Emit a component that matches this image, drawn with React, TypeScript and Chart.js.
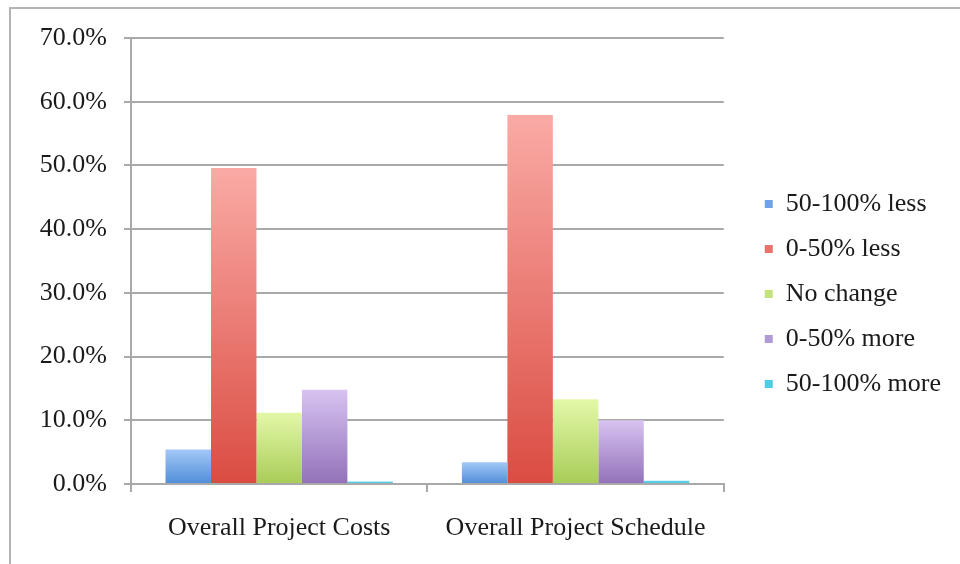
import React, { useEffect, useRef } from "react";
import { Chart, registerables } from "chart.js";

Chart.register(...registerables);

const categories = ["Overall Project Costs", "Overall Project Schedule"];
const seriesNames = ["50-100% less", "0-50% less", "No change", "0-50% more", "50-100% more"];
const lessMajor = [5.4, 3.4];
const lessMinor = [49.6, 57.9];
const noChange = [11.2, 13.3];
const moreMinor = [14.8, 10.0];
const moreMajor = [0.4, 0.5];
const seriesValues = [lessMajor, lessMinor, noChange, moreMinor, moreMajor];
const yTicks = [0, 10, 20, 30, 40, 50, 60, 70];

const gradTop = ["#a2c8f6", "#faaaa5", "#e3f8a8", "#d7c3f1", "#66d8ef"];
const gradBottom = ["#4f8dd9", "#da4c42", "#a9cc58", "#9271b9", "#3cbfd8"];
const legendColors = ["#6fa3e6", "#e8736b", "#c4e37f", "#b19ad6", "#4fcde6"];

const FONT = "'Liberation Serif', 'Times New Roman', serif";
const GRID = "#a9a9a9";

const legendShift = {
  id: "legendShift",
  afterLayout(chart: any) {
    const lg = chart.legend;
    if (lg) {
      lg.left += 22;
      lg.right += 22;
    }
  },
};

export default function App() {
  const ref = useRef<HTMLCanvasElement | null>(null);

  useEffect(() => {
    if (!ref.current) return;
    const makeBg = (i: number) => (ctx: any) => {
      const chart = ctx.chart;
      const y = chart.scales && chart.scales.y;
      if (!chart.chartArea || !y || ctx.raw === undefined) return legendColors[i];
      const top = y.getPixelForValue(ctx.raw);
      const bottom = y.getPixelForValue(0);
      if (!isFinite(top) || !isFinite(bottom) || bottom - top < 1) return gradBottom[i];
      const g = chart.ctx.createLinearGradient(0, top, 0, bottom);
      g.addColorStop(0, gradTop[i]);
      g.addColorStop(1, gradBottom[i]);
      return g;
    };

    const chart = new Chart(ref.current, {
      type: "bar",
      data: {
        labels: categories,
        datasets: seriesNames.map((name, i) => ({
          label: name,
          data: seriesValues[i],
          backgroundColor: makeBg(i),
          borderWidth: 0,
          barPercentage: 1.0,
          categoryPercentage: 0.767,
        })),
      },
      plugins: [legendShift],
      options: {
        responsive: false,
        animation: false,
        devicePixelRatio: 1,
        layout: { padding: { top: 38, bottom: 14, left: 0, right: 31 } },
        plugins: {
          tooltip: { enabled: false },
          legend: {
            position: "right",
            labels: {
              font: { family: FONT, size: 26 },
              color: "#1a1a1a",
              boxWidth: 8,
              boxHeight: 8,
              padding: 19,
              generateLabels: () =>
                seriesNames.map((n, i) => ({
                  text: n,
                  fillStyle: legendColors[i],
                  strokeStyle: legendColors[i],
                  lineWidth: 0,
                  hidden: false,
                  datasetIndex: i,
                  fontColor: "#1a1a1a",
                })),
            },
          },
        },
        scales: {
          x: {
            offset: true,
            grid: {
              offset: true,
              drawOnChartArea: false,
              drawTicks: true,
              tickLength: 8,
              color: GRID,
              lineWidth: 2,
            },
            border: { display: true, color: GRID, width: 2 },
            ticks: {
              font: { family: FONT, size: 26 },
              color: "#1a1a1a",
              padding: 21,
              maxRotation: 0,
            },
            afterFit: (s: any) => {
              s.height = 66;
            },
          },
          y: {
            min: 0,
            max: 70,
            afterBuildTicks: (s: any) => {
              s.ticks = yTicks.map((v) => ({ value: v }));
            },
            grid: {
              color: GRID,
              lineWidth: 2,
              drawTicks: true,
              tickLength: 7,
            },
            border: { display: true, color: GRID, width: 2 },
            ticks: {
              font: { family: FONT, size: 26 },
              color: "#1a1a1a",
              padding: 17,
              callback: (v: any) => Number(v).toFixed(1) + "%",
            },
            afterFit: (s: any) => {
              s.width = 131;
            },
          },
        },
      },
    });
    return () => chart.destroy();
  }, []);

  return (
    <div style={{ position: "fixed", left: 0, top: 0, width: 960, height: 564, background: "#fff", overflow: "hidden" }}>
      <div
        style={{
          position: "absolute",
          left: 9,
          top: 7,
          width: 960,
          height: 600,
          borderLeft: "2px solid #b3b3b3",
          borderTop: "2px solid #b3b3b3",
        }}
      />
      <canvas ref={ref} width={960} height={564} style={{ position: "absolute", left: 0, top: 0, width: 960, height: 564 }} />
    </div>
  );
}
